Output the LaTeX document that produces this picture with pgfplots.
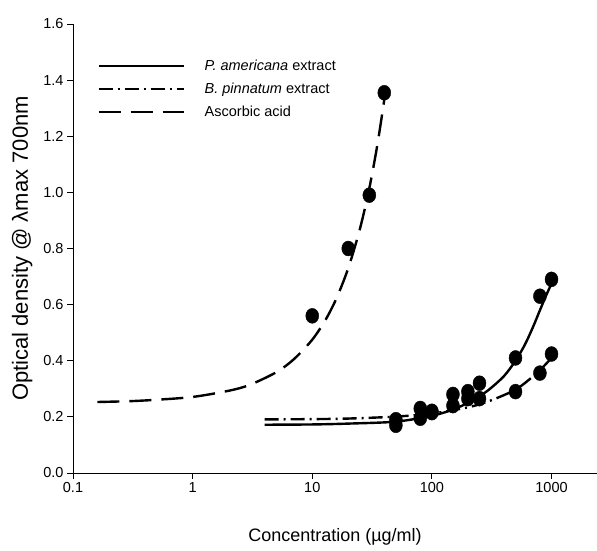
\documentclass[border=0pt]{standalone}
\usepackage{fontspec}
\setmainfont{Liberation Sans}
\usepackage{pgfplots}
\pgfplotsset{compat=1.18}

% measured points
\pgfplotstableread{
x y
10 0.56
20 0.80
30 0.99
40 1.355
}\ascorbic
\pgfplotstableread{
x y
50 0.17
80 0.23
100 0.22
150 0.28
200 0.29
250 0.32
500 0.41
800 0.63
1000 0.69
}\americana
\pgfplotstableread{
x y
50 0.19
80 0.195
100 0.215
150 0.24
200 0.265
250 0.265
500 0.29
800 0.356
1000 0.424
}\pinnatum

\begin{document}
\begin{tikzpicture}
\useasboundingbox (-73pt,-78pt) rectangle (524pt,473pt);
\begin{axis}[
    at={(0pt,0pt)}, anchor=south west,
    scale only axis, width=524pt, height=449pt,
    xmode=log, xmin=0.1, xmax=2400,
    ymin=0, ymax=1.6,
    axis x line*=bottom, axis y line*=left,
    axis line style={-, line width=0.8pt},
    tick align=outside, major tick length=6pt, minor tick length=0pt,
    tick style={line width=0.8pt, black},
    xtick={0.1,1,10,100,1000}, xticklabels={0.1,1,10,100,1000},
    ytick={0,0.2,0.4,0.6,0.8,1.0,1.2,1.4,1.6},
    y tick label style={/pgf/number format/fixed, /pgf/number format/fixed zerofill, /pgf/number format/precision=1},
    /pgf/number format/assume math mode=true,
    tick label style={font=\fontsize{14.5}{17}\selectfont},
    xlabel={Concentration (µg/ml)},
    ylabel={Optical density @ λmax 700nm},
    xlabel style={font=\fontsize{18}{21}\selectfont, at={(axis description cs:0.5,-0.1425)}, anchor=center},
    ylabel style={font=\fontsize{22}{25}\selectfont, at={(axis description cs:-0.097,0.5)}, anchor=center},
    legend style={draw=none, fill=none, at={(0.046,0.925)}, anchor=north west,
        inner sep=0pt, row sep=7pt, font=\fontsize{14.5}{17}\selectfont,
        /tikz/every odd column/.append style={column sep=18pt}},
    legend cell align=left,
    legend image code/.code={\draw[#1, line width=2.4pt] (0pt,0pt) -- (85pt,0pt);},
]
% fitted curves
\addplot[black, line width=2.4pt, smooth] coordinates {
(4,0.172) (10,0.173) (20,0.176) (50,0.183) (100,0.204) (150,0.226) (200,0.25)
(250,0.274) (300,0.297) (400,0.345) (500,0.40) (600,0.458) (700,0.52) (800,0.58) (900,0.632) (1000,0.675)};
\addlegendentry{\textit{P. americana} extract}
\addplot[black, line width=2.4pt, smooth, dash pattern=on 14pt off 5pt on 2pt off 5pt] coordinates {
(4,0.191) (10,0.192) (20,0.194) (50,0.201) (100,0.212) (200,0.234) (300,0.256)
(500,0.297) (700,0.344) (800,0.366) (1000,0.41)};
\addlegendentry{\textit{B. pinnatum} extract}
\addplot[black, line width=2.4pt, smooth, dash pattern=on 22pt off 10pt] coordinates {
(0.16,0.253) (0.3,0.256) (0.5,0.261) (1,0.271) (2,0.293) (3,0.314) (5,0.359) (7,0.405)
(10,0.475) (13,0.548) (16,0.624) (20,0.73) (25,0.869) (30,1.015) (35,1.169) (40,1.33)};
\addlegendentry{Ascorbic acid}
% data points
\addplot[only marks, mark=*, mark size=6.5pt, mark options={black, yscale=1.15}, forget plot] table {\ascorbic};
\addplot[only marks, mark=*, mark size=6.5pt, mark options={black, yscale=1.15}, forget plot] table {\americana};
\addplot[only marks, mark=*, mark size=6.5pt, mark options={black, yscale=1.15}, forget plot] table {\pinnatum};
\end{axis}
\end{tikzpicture}
\end{document}
